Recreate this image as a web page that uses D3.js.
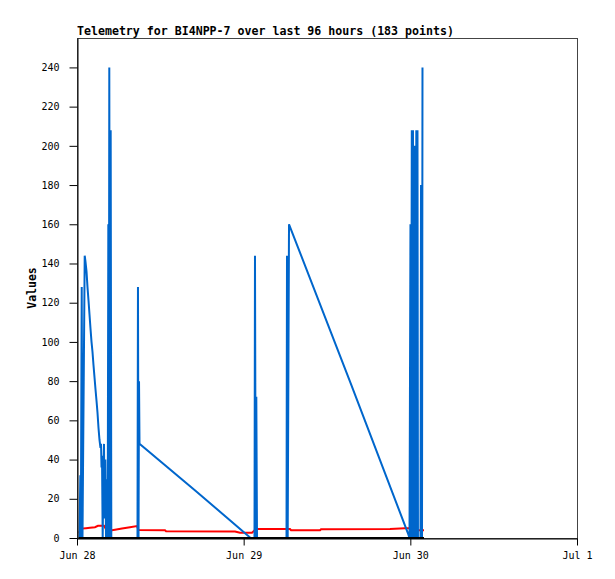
<!DOCTYPE html>
<html>
<head>
<meta charset="utf-8">
<script src="https://cdn.jsdelivr.net/npm/d3@7"></script>
<style>
  body { margin: 0; background: #fff; }
  svg { display: block; }
  .tick text { font-family: "DejaVu Sans Mono", monospace; font-size: 10px; fill: #000; }
</style>
</head>
<body>
<div id="chart"></div>
<script>
// Telemetry data.
// Times are hours after Jun 28 00:00.
const startDate = new Date(2024, 5, 28);
const endDate = new Date(2024, 6, 1);

const blueHours = [
  0.36, 0.48, 0.55, 0.68, 0.79, 1.11, 1.22, 1.37, 1.51, 1.66, 1.80, 1.94,
  2.09, 2.23, 2.38, 2.52, 2.66, 2.81, 2.95, 3.10, 3.24, 3.38, 3.46, 3.53,
  3.60, 3.70, 3.79, 3.89, 3.96, 4.08, 4.18, 4.32, 4.42, 4.51, 4.58, 4.65,
  4.75, 4.85, 4.94, 8.71, 8.78, 8.86, 8.93, 9.00, 17.10, 25.00, 25.56,
  25.63, 25.73, 25.82, 25.92, 30.17, 30.24, 30.34, 30.53, 39.40, 47.70,
  47.88, 48.02, 48.10, 48.21, 48.31, 48.38, 48.50, 48.67, 48.74, 48.86,
  48.96, 49.03, 49.10, 49.46, 49.54, 49.61, 49.68, 49.75
];
const blueValues = [
  0, 32, 0, 128, 0, 144, 141, 136, 128, 121, 114, 107,
  100, 95, 88, 82, 76, 70, 64, 56, 50, 46, 48, 36,
  42, 0, 30, 48, 10, 40, 0, 30, 0, 160, 0, 240,
  0, 208, 0, 0, 128, 0, 80, 48, 24, 0, 0,
  144, 0, 72, 0, 0, 144, 0, 160, 79, 2,
  0, 160, 0, 208, 0, 208, 0, 200, 0, 208,
  0, 208, 0, 0, 180, 60, 0, 240
];

const redHours = [
  0.24, 0.58, 0.65, 1.30, 1.87, 2.59, 3.02, 3.89, 4.18, 4.61, 5.47, 6.48,
  7.63, 8.64, 8.86, 12.67, 12.82, 22.75, 23.47, 25.20, 25.78, 30.67, 30.82,
  35.00, 35.14, 45.07, 47.23, 48.24, 48.38, 49.97
];
const redValues = [
  2.9, 2.9, 4.8, 5.0, 5.2, 5.5, 6.2, 6.3, 4.5, 3.7, 4.2, 4.8,
  5.5, 6.1, 4.1, 4.0, 3.5, 3.3, 2.7, 2.7, 4.6, 4.6, 4.0,
  4.0, 4.5, 4.6, 5.0, 5.0, 4.0, 4.0
];

const blackHours = [0.24, 49.97];
const blackValues = [0, 0];

const yTicks = [0, 20, 40, 60, 80, 100, 120, 140, 160, 180, 200, 220, 240];
const xTickLabels = ["Jun 28", "Jun 29", "Jun 30", "Jul 1"];

const width = 615;
const height = 579;
const margin = { top: 38, right: 38, bottom: 41, left: 77 };

const svg = d3.select("#chart")
  .append("svg")
  .attr("width", width)
  .attr("height", height);

const x = d3.scaleTime()
  .domain([startDate, endDate])
  .range([margin.left, width - margin.right]);

const y = d3.scaleLinear()
  .domain([0, 255])
  .range([height - margin.bottom, margin.top]);

const toDate = h => new Date(startDate.getTime() + h * 3600 * 1000);

// frame: top and right in grey
svg.append("rect")
  .attr("x", margin.left + 0.5)
  .attr("y", margin.top + 0.5)
  .attr("width", width - margin.left - margin.right)
  .attr("height", height - margin.top - margin.bottom)
  .attr("fill", "none")
  .attr("stroke", "#444");

const line = d3.line()
  .x(d => x(toDate(d[0])))
  .y(d => y(d[1]));

function drawSeries(hours, values, color, w) {
  svg.append("path")
    .datum(hours.map((h, i) => [h, values[i]]))
    .attr("fill", "none")
    .attr("stroke", color)
    .attr("stroke-width", w)
    .attr("d", line);
}

drawSeries(redHours, redValues, "#ff0000", 2);
drawSeries(blueHours, blueValues, "#0066cc", 2);
drawSeries(blackHours, blackValues, "#000000", 2);

// axes
const xTickDates = xTickLabels.map((_, i) => d3.timeDay.offset(startDate, i));
svg.append("g")
  .attr("transform", `translate(0,${height - margin.bottom + 0.5})`)
  .call(d3.axisBottom(x)
    .tickValues(xTickDates)
    .tickFormat((d, i) => xTickLabels[i])
    .tickSize(7)
    .tickPadding(6)
    .tickSizeOuter(0))
  .call(g => g.selectAll("line, path").attr("stroke", "#000"));

svg.append("g")
  .attr("transform", `translate(${margin.left + 0.5},0)`)
  .call(d3.axisLeft(y)
    .tickValues(yTicks)
    .tickSize(8)
    .tickPadding(10)
    .tickSizeOuter(0))
  .call(g => g.selectAll("line, path").attr("stroke", "#000"));

// title and axis label
svg.append("text")
  .attr("x", margin.left)
  .attr("y", 35)
  .attr("font-family", "DejaVu Sans Mono, monospace")
  .attr("font-size", "11.6px")
  .attr("font-weight", "bold")
  .text("Telemetry for BI4NPP-7 over last 96 hours (183 points)");

svg.append("text")
  .attr("transform", `translate(36,${(margin.top + height - margin.bottom) / 2}) rotate(-90)`)
  .attr("text-anchor", "middle")
  .attr("font-family", "DejaVu Sans Mono, monospace")
  .attr("font-size", "11.5px")
  .attr("font-weight", "bold")
  .text("Values");
</script>
</body>
</html>
